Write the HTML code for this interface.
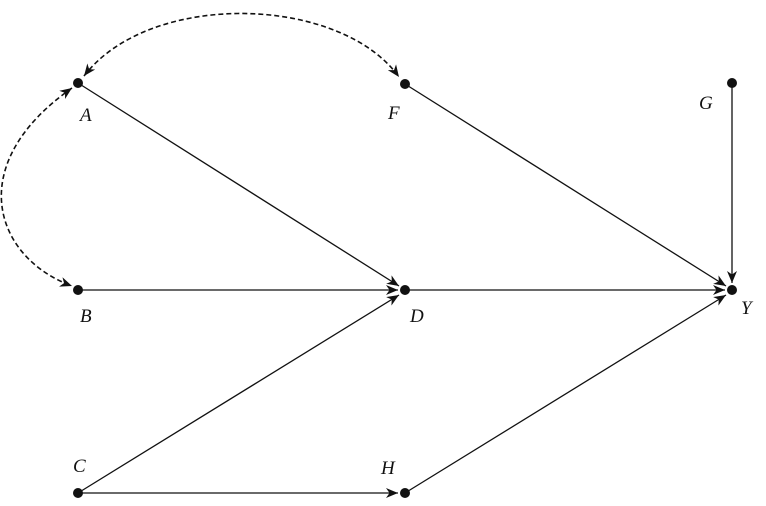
<!DOCTYPE html>
<html><head><style>html,body{margin:0;padding:0;background:#fff;}svg{display:block}
.lb{font-family:"Liberation Serif",serif;font-style:italic;font-size:19px;fill:#111}</style></head>
<body>
<svg width="766" height="506" viewBox="0 0 766 506" xmlns="http://www.w3.org/2000/svg">
<defs>
<marker id="ar" viewBox="0 0 12 10" refX="12" refY="5" markerWidth="12" markerHeight="10" markerUnits="userSpaceOnUse" orient="auto">
<path d="M0,0 L12,5 L0,10 L3.5,5 z" fill="#111"/>
</marker>
<marker id="as" viewBox="0 0 12 10" refX="0" refY="5" markerWidth="12" markerHeight="10" markerUnits="userSpaceOnUse" orient="auto">
<path d="M12,0 L0,5 L12,10 L8.5,5 z" fill="#111"/>
</marker>
</defs>
<g stroke="#111" stroke-width="1.3" fill="none">
<line x1="78" y1="83" x2="399" y2="286" marker-end="url(#ar)"/>
<line x1="78" y1="290" x2="398" y2="290" marker-end="url(#ar)"/>
<line x1="78" y1="493" x2="399" y2="295" marker-end="url(#ar)"/>
<line x1="78" y1="493" x2="398" y2="493" marker-end="url(#ar)"/>
<line x1="405" y1="290" x2="725" y2="290" marker-end="url(#ar)"/>
<line x1="405" y1="84" x2="726" y2="286" marker-end="url(#ar)"/>
<line x1="732" y1="83" x2="732" y2="283" marker-end="url(#ar)"/>
<line x1="405" y1="493" x2="726" y2="295" marker-end="url(#ar)"/>
</g>
<g stroke="#111" stroke-width="1.6" fill="none" stroke-dasharray="5,3">
<path d="M84,76 C150,-10 340,-5 399,77" marker-start="url(#as)" marker-end="url(#ar)"/>
<path d="M72,88 C-38,165 -5,258 72,286" marker-start="url(#as)" marker-end="url(#ar)"/>
</g>
<g fill="#111">
<circle cx="78" cy="83" r="5"/><circle cx="405" cy="84" r="5"/><circle cx="732" cy="83" r="5"/>
<circle cx="78" cy="290" r="5"/><circle cx="405" cy="290" r="5"/><circle cx="732" cy="290" r="5"/>
<circle cx="78" cy="493" r="5"/><circle cx="405" cy="493" r="5"/>
</g>
<text class="lb" x="80" y="121">A</text>
<text class="lb" x="388" y="119">F</text>
<text class="lb" x="699" y="109">G</text>
<text class="lb" x="80" y="322">B</text>
<text class="lb" x="410" y="322">D</text>
<text class="lb" x="741" y="314">Y</text>
<text class="lb" x="73" y="472">C</text>
<text class="lb" x="381" y="474">H</text>
</svg>
</body></html>
